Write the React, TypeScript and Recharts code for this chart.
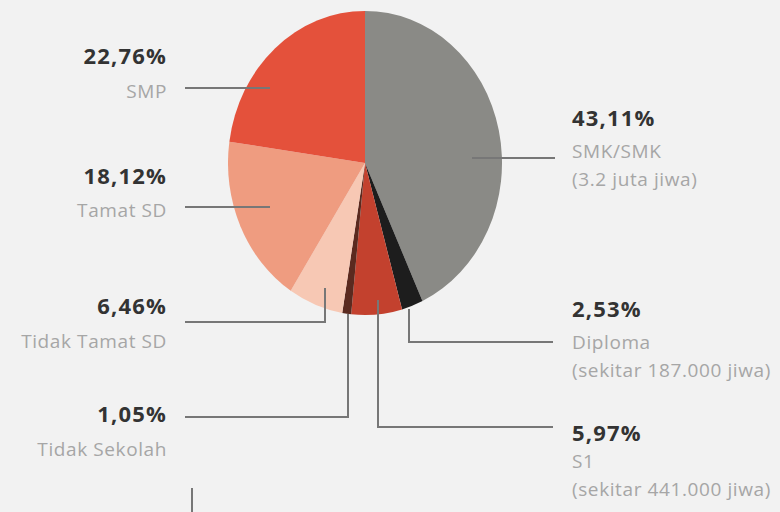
import { Cell, Pie, PieChart } from "recharts";

const categories = ["SMK/SMK", "Diploma", "S1", "Tidak Sekolah", "Tidak Tamat SD", "Tamat SD", "SMP"];
const shares = [43.11, 2.53, 5.97, 1.05, 6.46, 18.12, 22.76];
const notes = ["(3.2 juta jiwa)", "(sekitar 187.000 jiwa)", "(sekitar 441.000 jiwa)", "", "", "", ""];

const colors = ["#8a8a86", "#1d1d1d", "#c3412e", "#5b2a1f", "#f7c8b4", "#ef9c80", "#e4513b"];

// where each label block sits (x anchor, baseline of the % line) and its leader path
const layout = [
  { x: 572, y: 126, anchor: "start", gap: 32, path: "M472,158H555" },
  { x: 572, y: 317, anchor: "start", gap: 32, path: "M409,309V342H553" },
  { x: 572, y: 441, anchor: "start", gap: 27, path: "M378,300V427H553" },
  { x: 167, y: 422, anchor: "end", gap: 34, path: "M348,314V417H185" },
  { x: 167, y: 314, anchor: "end", gap: 34, path: "M325,288V322H185" },
  { x: 167, y: 184, anchor: "end", gap: 33, path: "M270,207H185" },
  { x: 167, y: 64, anchor: "end", gap: 34, path: "M270,88H185" },
];

const data = categories.map((name, i) => ({ name, value: shares[i], note: notes[i] }));

const fmt = (v: number) => v.toFixed(2).replace(".", ",") + "%";

export default function App() {
  return (
    <div
      style={{
        position: "absolute",
        left: 0,
        top: 0,
        width: 780,
        height: 512,
        background: "#f2f2f2",
        overflow: "hidden",
        fontFamily: '"Open Sans", sans-serif',
      }}
    >
      {/* the original pie is a bit taller than wide */}
      <div style={{ position: "absolute", left: 0, top: 0, transform: "scaleY(1.11)", transformOrigin: "0 163px" }}>
        <PieChart width={780} height={512} margin={{ top: 0, right: 0, bottom: 0, left: 0 }}>
          <Pie
            data={data}
            dataKey="value"
            nameKey="name"
            cx={365}
            cy={163}
            outerRadius={137}
            startAngle={90}
            endAngle={-270}
            stroke="none"
            isAnimationActive={false}
          >
            {data.map((d, i) => (
              <Cell key={d.name} fill={colors[i]} />
            ))}
          </Pie>
        </PieChart>
      </div>
      <svg width={780} height={512} style={{ position: "absolute", left: 0, top: 0 }}>
        {data.map((d, i) => {
          const l = layout[i];
          const anchor = l.anchor as "start" | "end";
          return (
            <g key={d.name}>
              <path d={l.path} fill="none" stroke="#777" strokeWidth={2} />
              <text x={l.x} y={l.y} textAnchor={anchor} fontSize={22} fontWeight={700} letterSpacing={1.2} fill="#333">
                {fmt(d.value)}
              </text>
              <text x={l.x} y={l.y + l.gap} textAnchor={anchor} fontSize={19} letterSpacing={0.6} fill="#a6a6a6">
                {d.name}
              </text>
              {d.note && (
                <text x={l.x} y={l.y + l.gap + 28} textAnchor={anchor} fontSize={19} letterSpacing={0.6} fill="#a6a6a6">
                  {d.note}
                </text>
              )}
            </g>
          );
        })}
        <path d="M192,488V512" stroke="#777" strokeWidth={2} />
      </svg>
    </div>
  );
}
